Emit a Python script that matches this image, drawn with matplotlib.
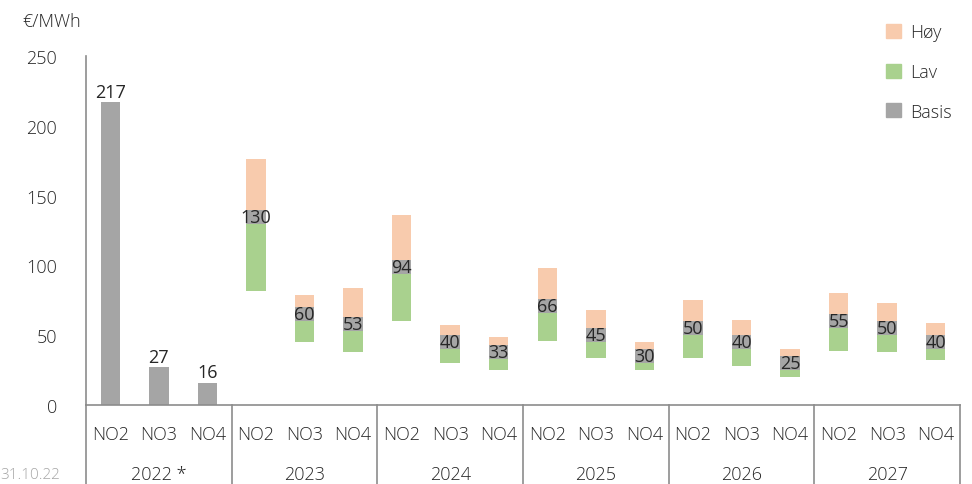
import numpy as np
import matplotlib
matplotlib.use("Agg")
import matplotlib.pyplot as plt
from matplotlib.patches import Patch

plt.rcParams['font.family'] = ['Open Sans', 'DejaVu Sans']
plt.rcParams['font.weight'] = 'light'

years = ["2022 *", "2023", "2024", "2025", "2026", "2027"]
areas = ["NO2", "NO3", "NO4"]

# basis price per area and year (€/MWh)
basis = [217, 27, 16, 130, 60, 53, 94, 40, 33, 66, 45, 30, 50, 40, 25, 55, 50, 40]
# low / high scenario (none for 2022)
low = [np.nan, np.nan, np.nan, 82, 45, 38, 60, 30, 25, 46, 34, 25, 34, 28, 20, 39, 38, 32]
high = [np.nan, np.nan, np.nan, 176, 79, 84, 136, 57, 49, 98, 68, 45, 75, 61, 40, 80, 73, 59]

c_high = "#F8CBAD"
c_low = "#A9D18E"
c_base = "#A5A5A5"
txt = "#262626"
axc = "#8C8C8C"
band = 10  # height of the grey basis marker

W, H = 972, 485
fig = plt.figure(figsize=(W / 100, H / 100), dpi=100)
x0, x1, y0, y1 = 86, 960, 406, 57
ax = fig.add_axes([x0 / W, 1 - y0 / H, (x1 - x0) / W, (y0 - y1) / H])

n = len(basis)
x = np.arange(n)
bw = 0.4
basis = np.array(basis, float)
low = np.array(low, float)
high = np.array(high, float)

solo = np.isnan(low)
ax.bar(x[solo], basis[solo], width=bw, color=c_base)
rng = ~solo
ax.bar(x[rng], basis[rng] - low[rng], bottom=low[rng], width=bw, color=c_low)
ax.bar(x[rng], band, bottom=basis[rng], width=bw, color=c_base)
ax.bar(x[rng], high[rng] - basis[rng] - band, bottom=basis[rng] + band, width=bw, color=c_high)

for i in range(n):
    if solo[i]:
        ax.text(x[i], basis[i] + 1, "%d" % basis[i], ha="center", va="bottom",
                fontsize=13, color=txt, fontweight="normal")
    else:
        ax.text(x[i], basis[i] + band / 2, "%d" % basis[i], ha="center", va="center",
                fontsize=13, color=txt, fontweight="normal")

ax.set_xlim(-0.5, n - 0.5)
ax.set_ylim(0, 250)
ax.set_yticks(range(0, 251, 50))
ax.tick_params(axis="y", length=0, pad=21, labelsize=13, labelcolor=txt)
ax.set_xticks([])
for s in ["top", "right"]:
    ax.spines[s].set_visible(False)
for s in ["left", "bottom"]:
    ax.spines[s].set_color(axc)
    ax.spines[s].set_linewidth(1.2)

# two level category axis
for i in range(n):
    ax.text(x[i], -0.083, areas[i % 3], transform=ax.get_xaxis_transform(),
            ha="center", va="center", fontsize=13, color=txt)
for g, yr in enumerate(years):
    ax.text(3 * g + 1, -0.198, yr, transform=ax.get_xaxis_transform(),
            ha="center", va="center", fontsize=13, color=txt)
for g in range(len(years) + 1):
    ax.plot([3 * g - 0.5, 3 * g - 0.5], [0, -0.3], transform=ax.get_xaxis_transform(),
            color=axc, lw=1.2, clip_on=False)

fig.text(22 / W, 1 - 22 / H, "€/MWh", fontsize=13, color=txt, va="center", ha="left")
fig.text(0, 1 - 476 / H, "31.10.22", fontsize=11, color="#A6A6A6", va="center", ha="left")

handles = [Patch(color=c_high), Patch(color=c_low), Patch(color=c_base)]
fig.legend(handles, ["Høy", "Lav", "Basis"], loc="upper left",
           bbox_to_anchor=(870 / W, 1 - 8 / H), frameon=False, fontsize=13,
           labelspacing=1.2, handlelength=0.8, handleheight=0.8, handletextpad=0.5,
           labelcolor=txt)

fig.savefig("out.png", dpi=100)
